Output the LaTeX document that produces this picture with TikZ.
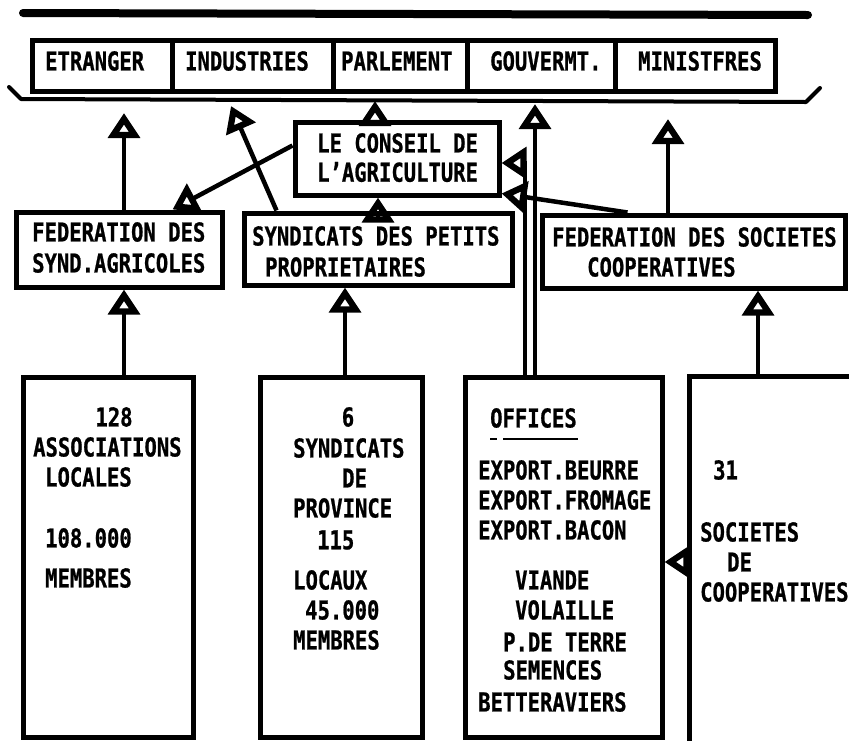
\documentclass[tikz,border=0pt]{standalone}
\usepackage{fontspec}
\newfontfamily\lett{DejaVu Sans Mono}[FakeStretch=0.79, FakeBold=0.8]
\usetikzlibrary{arrows.meta,fit}
\tikzset{
  box/.style={draw, line width=5pt, inner sep=0pt},
  lab/.style={anchor=west, inner sep=0pt, font=\lett\bfseries\fontsize{26}{26}\selectfont},
  labc/.style={lab, anchor=center},
  ln/.style={line width=4.5pt},
  opentip/.tip={Triangle[open, length=25pt, width=31pt, line width=7pt]},
  arr/.style={ln, -opentip}
}
\begin{document}
\begin{tikzpicture}[x=1pt,y=-1pt]
\useasboundingbox (0,0) rectangle (849,740);
% top line and bracket
\draw[line width=8pt, line cap=round] (23,13) -- (808,15);
\draw[line width=4pt, line join=round, line cap=round] (9,87) -- (21,99) -- (806,102) -- (820,88);
% top row
\node[box, fit={(32,40)(172,91)}] (etr) {};
\node[box, fit={(172,40)(333,91)}] (ind) {};
\node[box, fit={(333,40)(467,91)}] (par) {};
\node[box, fit={(467,40)(615,91)}] (gou) {};
\node[box, fit={(615,40)(775,91)}] (min) {};
\node[lab] (t01) at (45,61) {ETRANGER};
\node[lab] (t02) at (185,61) {INDUSTRIES};
\node[lab] (t03) at (341,61) {PARLEMENT};
\node[lab] (t04) at (490,61) {GOUVERMT.};
\node[lab] (t05) at (638,61) {MINISTFRES};
% middle
\node[box, fit={(295,122)(499,195)}] (cons) {};
\node[lab] (t06) at (317,143) {LE CONSEIL DE};
\node[lab] (t07) at (317,172) {L’AGRICULTURE};
\node[box, fit={(16,212)(222,287)}] (fa) {};
\node[lab] (t08) at (32,232) {FEDERATION DES};
\node[lab] (t09) at (32,263) {SYND.AGRICOLES};
\node[box, fit={(244,213)(512,285)}] (sy) {};
\node[lab] (t10) at (252,236) {SYNDICATS DES PETITS};
\node[lab] (t11) at (265,267) {PROPRIETAIRES};
\node[box, fit={(542,215)(845,288)}] (fs) {};
\node[lab] (t12) at (552,237) {FEDERATION DES SOCIETES};
\node[lab] (t13) at (587,267) {COOPERATIVES};
% bottom row
\node[box, fit={(23,377)(193,737)}] (b1) {};
\node[labc] (t14) at (114,417) {128};
\node[lab] (t15) at (33,447) {ASSOCIATIONS};
\node[lab] (t16) at (45,477) {LOCALES};
\node[lab] (t17) at (45,538) {108.000};
\node[lab] (t18) at (45,578) {MEMBRES};
\node[box, fit={(260,377)(422,737)}] (b2) {};
\node[labc] (t19) at (348,417) {6};
\node[lab] (t20) at (293,448) {SYNDICATS};
\node[lab] (t21) at (342,478) {DE};
\node[lab] (t22) at (293,508) {PROVINCE};
\node[lab] (t23) at (317,540) {115};
\node[lab] (t24) at (293,580) {LOCAUX};
\node[lab] (t25) at (305,610) {45.000};
\node[lab] (t26) at (293,640) {MEMBRES};
\node[box, fit={(465,377)(662,737)}] (b3) {};
\node[lab] (t27) at (490,418) {OFFICES};
\draw[line width=2.5pt] (490,439) -- (497,439) (503,439) -- (578,439);
\node[lab] (t28) at (478,470) {EXPORT.BEURRE};
\node[lab] (t29) at (478,500) {EXPORT.FROMAGE};
\node[lab] (t30) at (478,530) {EXPORT.BACON};
\node[lab] (t31) at (515,580) {VIANDE};
\node[lab] (t32) at (515,610) {VOLAILLE};
\node[lab] (t33) at (503,642) {P.DE TERRE};
\node[lab] (t34) at (503,670) {SEMENCES};
\node[lab] (t35) at (478,702) {BETTERAVIERS};
\node[inner sep=0pt, fit={(690,377)(860,760)}] (b4) {};
\draw[line width=5pt] (b4.north east) -- (b4.north west) -- (b4.south west);
\node[lab] (t36) at (713,470) {31};
\node[lab] (t37) at (700,532) {SOCIETES};
\node[lab] (t38) at (727,562) {DE};
\node[lab] (t39) at (700,592) {COOPERATIVES};
% coordinates
\coordinate (k1) at (124,113);
\coordinate (k2) at (231,106);
\coordinate (k3) at (375,101);
\coordinate (k4) at (535,104);
\coordinate (k5) at (668,119);
\coordinate (x378) at (378,0);
\coordinate (x345) at (345,0);
\coordinate (x758) at (758,0);
\coordinate (c525) at (525,163);
\coordinate (y562) at (0,562);
% connectors
\draw[arr] (fa.north -| k1) -- (k1);
\draw[arr] ([xshift=35pt]sy.north west) -- (k2);
\draw[arr] (cons.north -| k3) -- (k3);
\draw[arr] (b3.north -| k4) -- (k4);
\draw[arr] (fs.north -| k5) -- (k5);
\draw[arr] ([yshift=13pt]cons.west) -- ([xshift=-52pt]fa.north east);
\draw[arr] (sy.north -| x378) -- (cons.south -| x378);
\draw[arr] (b3.north -| c525) -- (c525) -- (cons.east |- c525);
\draw[arr] ([xshift=88pt]fs.north west) -- ([yshift=4pt]cons.south east);
\draw[arr] (b1.north -| k1) -- (fa.south -| k1);
\draw[arr] (b2.north -| x345) -- (sy.south -| x345);
\draw[arr] (b4.north -| x758) -- (fs.south -| x758);
\draw[arr] (b4.west |- y562) -- (b3.east |- y562);
\end{tikzpicture}
\end{document}
